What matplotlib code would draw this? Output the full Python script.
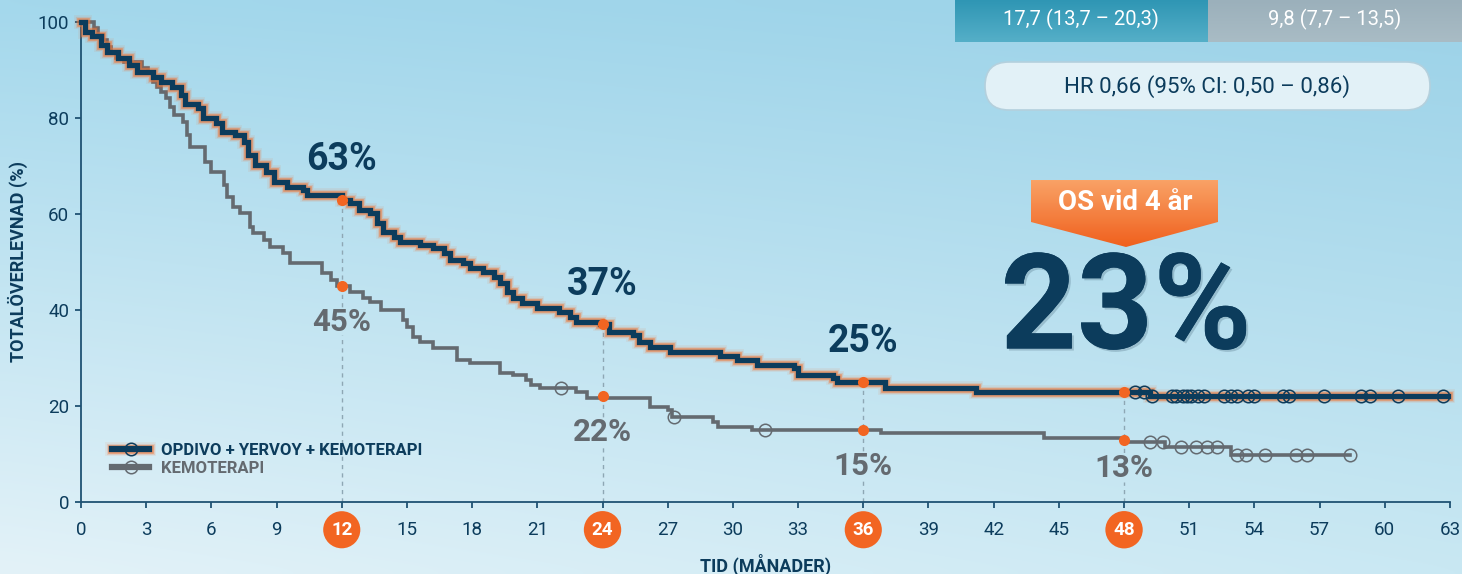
import numpy as np
import matplotlib.pyplot as plt
import matplotlib.patheffects as pe
from matplotlib.patches import FancyBboxPatch, Polygon
from matplotlib.lines import Line2D
from matplotlib.colors import to_rgb

plt.rcParams['font.family'] = ['Roboto', 'DejaVu Sans']

# Kaplan-Meier, OPDIVO + YERVOY + KEMOTERAPI
tid_kombo = [0, 0.2, 0.5, 0.9, 1.2, 1.7, 2.2, 2.6, 3.3, 3.7, 4.2, 4.6, 4.8, 5.4, 5.6,
             6.2, 6.5, 7.1, 7.5, 7.7, 8.0, 8.5, 8.9, 9.5, 10.2, 10.4, 12.0, 12.4, 12.8,
             13.3, 13.6, 13.9, 14.4, 14.7, 15.6, 16.2, 16.7, 17.0, 17.6, 17.9, 18.5,
             19.0, 19.3, 19.6, 19.9, 20.3, 21.0, 22.0, 22.5, 22.8, 23.9, 24.3, 25.4,
             25.7, 26.2, 27.1, 29.4, 30.2, 31.1, 32.8, 33.0, 34.6, 34.8, 37.0, 41.2,
             49.2, 62.9]
surv_kombo = [100, 98, 97, 95.2, 93.7, 92.5, 91, 89.6, 88.5, 87.5, 86.5, 84.8, 83, 82, 80,
              79, 77, 76.5, 75, 72.3, 70.2, 68.8, 66.7, 65.6, 65.0, 64.0, 63.0, 62.3, 60.8,
              60.2, 58.1, 56.3, 55.2, 54.2, 53.5, 52.9, 51.9, 50.4, 49.8, 48.8, 47.9,
              46.9, 45.6, 43.8, 42.5, 41.5, 40.4, 39.6, 38.5, 37.5, 37.0, 35.4, 34.8,
              33.3, 32.3, 31.3, 30.4, 29.6, 28.5, 27.9, 26.5, 25.8, 25.0, 23.7, 23.0,
              22.0, 22.0]
censur_kombo = [48.5, 48.9, 49.3, 50.2, 50.4, 50.7, 50.9, 51.1, 51.4, 51.7, 52.6, 52.9,
                53.2, 53.7, 54.0, 55.3, 55.6, 57.2, 58.9, 59.3, 60.6, 62.7]

# Kaplan-Meier, KEMOTERAPI
tid_kemo = [0, 0.6, 0.8, 1.0, 1.2, 1.4, 1.6, 2.0, 2.8, 3.1, 3.3, 3.5, 3.7, 3.9, 4.1, 4.3,
            4.7, 4.9, 5.0, 5.7, 6.0, 6.6, 6.7, 7.0, 7.3, 7.8, 7.9, 8.4, 8.7, 9.3, 9.6,
            11.1, 11.5, 11.8, 12.4, 13.0, 13.3, 13.8, 14.8, 15.0, 15.3, 15.6, 16.2, 17.3,
            17.9, 19.3, 19.9, 20.5, 20.7, 21.1, 22.8, 23.3, 26.2, 27.0, 27.2, 29.1, 29.3,
            30.9, 36.8, 44.3, 48.1, 49.9, 52.9, 58.4]
surv_kemo = [100, 98.8, 97.3, 96.2, 94.8, 93.8, 92.5, 91.7, 90.4, 89.4, 87.5, 86.5, 85.4,
             84.2, 82.3, 80.6, 79.2, 76.5, 74.0, 70.8, 68.8, 66.0, 63.5, 61.5, 60.2, 57.3,
             56.0, 54.6, 53.1, 51.9, 49.8, 47.7, 46.3, 45.0, 43.8, 42.5, 41.7, 40.0, 38.0,
             36.5, 34.4, 33.3, 32.1, 29.6, 29.0, 26.9, 26.5, 25.4, 24.4, 23.8, 23.0, 21.7,
             19.8, 19.2, 17.7, 16.7, 15.6, 15.0, 14.4, 13.3, 12.5, 11.5, 9.8, 9.8]
censur_kemo = [22.1, 27.3, 31.5, 49.2, 49.8, 50.6, 51.3, 51.8, 52.3, 53.2, 53.6, 54.5,
               55.9, 56.4, 58.4]

landmark_man = [12, 24, 36, 48]
landmark_kombo = [63, 37, 25, 23]
landmark_kemo = [45, 22, 15, 13]

x_ticks = list(range(0, 64, 3))
y_ticks = [0, 20, 40, 60, 80, 100]

median_kombo = '17,7 (13,7 – 20,3)'
median_kemo = '9,8 (7,7 – 13,5)'
hr_text = 'HR 0,66 (95% CI: 0,50 – 0,86)'
os_rubrik = 'OS vid 4 år'
os_varde = 23

NAVY = '#0c3c5c'
GRA = '#646a70'
ORANGE = '#f26522'
LINJE = '#8ea7b4'


def vid(t, tider, varden):
    i = np.searchsorted(tider, t, side='right') - 1
    return np.asarray(varden)[i]


def gradient(c_top, c_bot, n=64):
    a = np.array(to_rgb(c_top))
    b = np.array(to_rgb(c_bot))
    f = np.linspace(0, 1, n)[:, None]
    return (a * (1 - f) + b * f)[:, None, :]


W, H = 1462, 574
fig = plt.figure(figsize=(W / 100, H / 100), dpi=100)

# bakgrund i pixelkoordinater
bg = fig.add_axes([0, 0, 1, 1])
bg.set_xlim(0, W)
bg.set_ylim(H, 0)
bg.axis('off')
bg.set_zorder(0)

tl, tr = np.array(to_rgb('#a4d8ec')), np.array(to_rgb('#9bd2e8'))
bl, br = np.array(to_rgb('#e3f2f8')), np.array(to_rgb('#c9e8f3'))
fy = np.linspace(0, 1, 60)[:, None, None]
fx = np.linspace(0, 1, 120)[None, :, None]
img = (tl * (1 - fx) + tr * fx) * (1 - fy) + (bl * (1 - fx) + br * fx) * fy
bg.imshow(img, extent=(0, W, H, 0), aspect='auto', interpolation='bicubic', zorder=0)

# medianrutor
bg.imshow(gradient('#2f96b4', '#55afc8'), extent=(955, 1208, 42, 0), aspect='auto', zorder=1)
bg.imshow(gradient('#9bb0bb', '#a9bcc5'), extent=(1208, W, 42, 0), aspect='auto', zorder=1)
bg.text(1081, 19, median_kombo, ha='center', va='center', color='white', fontsize=14.5, zorder=2)
bg.text(1335, 19, median_kemo, ha='center', va='center', color='white', fontsize=14.5, zorder=2)

# HR-ruta
bg.add_patch(FancyBboxPatch((985, 62), 445, 48, boxstyle='round,pad=0,rounding_size=24',
                            fc='#e2f1f7', ec='#b4d0dd', lw=1.2, zorder=1))
bg.text(1207, 87, hr_text, ha='center', va='center', color=NAVY, fontsize=16, zorder=2)

# OS-banner
banner = Polygon([(1031, 180), (1218, 180), (1218, 222), (1126, 247), (1031, 222)],
                 closed=True, fc='none', ec='none')
bg.add_patch(banner)
im = bg.imshow(gradient('#f9a266', '#f0601d'), extent=(1031, 1218, 247, 180),
               aspect='auto', zorder=1)
im.set_clip_path(banner)
bg.text(1125, 202, os_rubrik, ha='center', va='center', color='white', fontsize=20,
        fontweight='bold', zorder=2)
bg.text(1126, 312, f'{os_varde}%', ha='center', va='center', color=NAVY, fontsize=96,
        fontweight='bold', zorder=2,
        path_effects=[pe.withSimplePatchShadow(offset=(1.5, -1.5), shadow_rgbFace='#06243a',
                                               alpha=0.18), pe.Normal()])

# diagram
ax = fig.add_axes([81 / W, 72 / H, 1369 / W, 480 / H])
ax.set_zorder(1)
ax.patch.set_alpha(0)
ax.set_xlim(0, 63)
ax.set_ylim(0, 100)

glod = [pe.Stroke(linewidth=10, foreground=ORANGE, alpha=0.08),
        pe.Stroke(linewidth=8, foreground=ORANGE, alpha=0.18),
        pe.Stroke(linewidth=6.2, foreground='#f07a3c', alpha=0.6), pe.Normal()]

# streckade hjälplinjer vid landmärken
for m, vk, vc in zip(landmark_man, landmark_kombo, landmark_kemo):
    ly = max(vc - 7.5, 7)
    ax.plot([m, m], [vk, vc], ls=(0, (3, 3)), color=LINJE, lw=1, zorder=1)
    ax.plot([m, m], [vc, ly + 2.8], ls=(0, (3, 3)), color=LINJE, lw=1, zorder=1)
    if ly - 2.8 > 0:
        ax.plot([m, m], [0, ly - 2.8], ls=(0, (3, 3)), color=LINJE, lw=1, zorder=1)

ax.plot(tid_kemo, surv_kemo, drawstyle='steps-post', color=GRA, lw=2.6, zorder=3,
        clip_on=False, solid_joinstyle='miter')
ax.plot(tid_kombo, surv_kombo, drawstyle='steps-post', color=NAVY, lw=3.8, zorder=4,
        clip_on=False, solid_joinstyle='miter', path_effects=glod)

ax.plot(censur_kemo, vid(censur_kemo, tid_kemo, surv_kemo), 'o', ms=9, mfc='none',
        mec=GRA, mew=1.1, zorder=5)
ax.plot(censur_kombo, vid(censur_kombo, tid_kombo, surv_kombo), 'o', ms=9, mfc='none',
        mec=NAVY, mew=1.1, zorder=5)

ax.plot(landmark_man, landmark_kombo, 'o', ms=8, color=ORANGE, mec='none', zorder=6)
ax.plot(landmark_man, landmark_kemo, 'o', ms=8, color=ORANGE, mec='none', zorder=6)

for m, vk in zip(landmark_man[:3], landmark_kombo[:3]):
    ax.text(m, vk + 8.4, f'{vk}%', ha='center', va='center', color=NAVY, fontsize=27,
            fontweight='bold', zorder=6)
for m, vc in zip(landmark_man, landmark_kemo):
    ax.text(m, max(vc - 7.5, 7), f'{vc}%', ha='center', va='center', color=GRA,
            fontsize=22.5, fontweight='bold', zorder=6)

# axlar
for s in ['top', 'right']:
    ax.spines[s].set_visible(False)
for s in ['left', 'bottom']:
    ax.spines[s].set_color('#1f5273')
    ax.spines[s].set_linewidth(1.3)
ax.set_xticks(x_ticks)
ax.set_yticks(y_ticks)
ax.tick_params(axis='x', length=4.5, width=1.3, color='#1f5273', pad=9, labelsize=13.5,
               labelcolor=NAVY)
ax.tick_params(axis='y', length=4.5, width=1.3, color='#1f5273', pad=4, labelsize=13.5,
               labelcolor=NAVY)
for lab in ax.get_xticklabels():
    if int(lab.get_text()) in landmark_man:
        lab.set_color('white')
        lab.set_fontweight('bold')
        lab.set_bbox(dict(boxstyle='circle,pad=0.42', fc=ORANGE, ec='none'))

ax.set_xlabel('TID (MÅNADER)', fontsize=13, fontweight='bold', color=NAVY)
ax.xaxis.set_label_coords(0.5, -0.108)
ax.set_ylabel('TOTALÖVERLEVNAD (%)', fontsize=13, fontweight='bold', color=NAVY)
ax.yaxis.set_label_coords(-0.039, 0.5)

# förklaring
linje_kombo = Line2D([], [], color=NAVY, lw=4.5, path_effects=glod)
punkt_kombo = Line2D([], [], ls='none', marker='o', ms=9, mfc='none', mec=NAVY, mew=1.1)
linje_kemo = Line2D([], [], color=GRA, lw=4.5)
punkt_kemo = Line2D([], [], ls='none', marker='o', ms=9, mfc='none', mec=GRA, mew=1.1)
leg = ax.legend([(linje_kombo, punkt_kombo), (linje_kemo, punkt_kemo)],
                ['OPDIVO + YERVOY + KEMOTERAPI', 'KEMOTERAPI'], loc='upper left',
                bbox_to_anchor=(0.012, 0.155), frameon=False, numpoints=1, handlelength=2.2,
                handletextpad=0.7, labelspacing=0.2, prop=dict(weight='bold', size=12))
for txt, c in zip(leg.get_texts(), [NAVY, GRA]):
    txt.set_color(c)

fig.savefig('out.png', dpi=100)
